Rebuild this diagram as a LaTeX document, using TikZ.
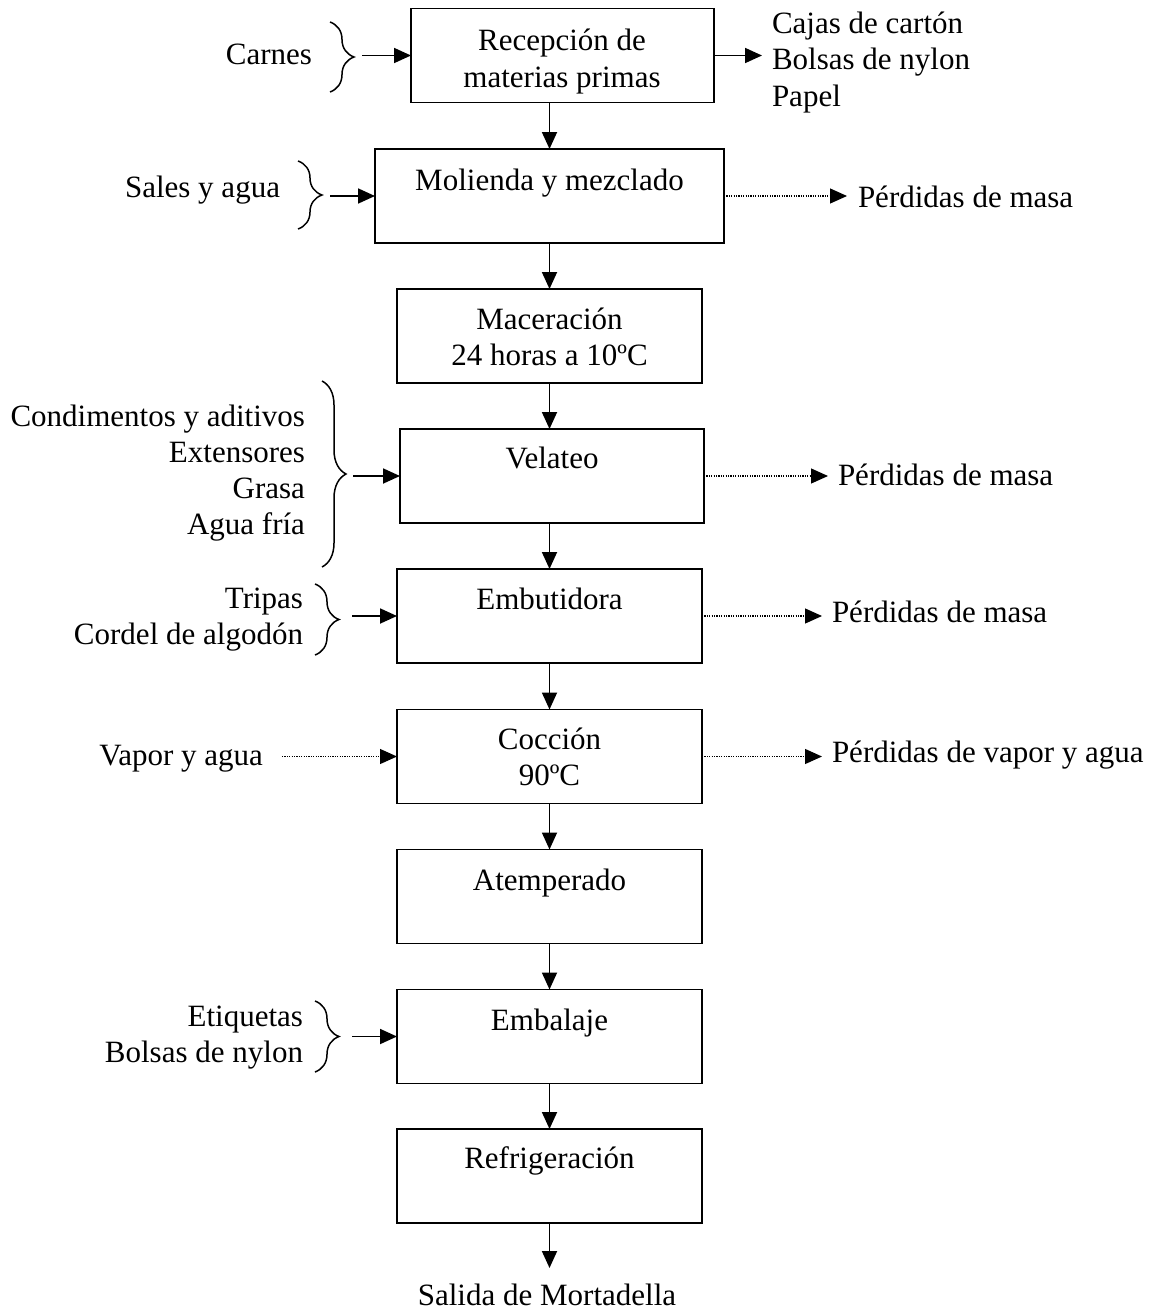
\documentclass[tikz,border=0pt]{standalone}
\usepackage{fontspec}
\setmainfont{Liberation Serif}
\usetikzlibrary{arrows.meta,decorations.pathreplacing}
\begin{document}
\begin{tikzpicture}[x=1pt,y=-1pt,
  every node/.style={font=\fontsize{31}{36}\selectfont, inner sep=0pt, outer sep=0pt},
  box/.style={draw, line width=1.8pt, minimum height=94pt, minimum width=305pt},
  flow/.style={line width=1.8pt, -{Triangle[length=17pt,width=15pt]}},
  loss/.style={line width=1.2pt, dash pattern=on 1.1pt off 1.3pt, -{Triangle[length=17pt,width=15pt]}},
  brc/.style={decorate, decoration={brace, amplitude=24pt, aspect=0.5}, line width=1.5pt},
  lab/.style={anchor=base east},
  rlab/.style={anchor=base west},
  ttl/.style={anchor=base}
]
\useasboundingbox (0,0) rectangle (1153,1314);

% boxes
\node[box, minimum width=303pt] (b1) at (562.5,55.5) {};
\node[box, minimum width=349pt] (b2) at (549.5,196) {};
\node[box] (b3) at (549.5,336) {};
\node[box, minimum width=304pt] (b4) at (552,476) {};
\node[box] (b5) at (549.5,616) {};
\node[box] (b6) at (549.5,756.5) {};
\node[box] (b7) at (549.5,896.5) {};
\node[box] (b8) at (549.5,1036.5) {};
\node[box] (b9) at (549.5,1176) {};

% box texts
\node[ttl] (t1a) at (562,51) {Recepción de};
\node[ttl] (t1b) at (562,87) {materias primas};
\node[ttl] (t2) at (549.5,190) {Molienda y mezclado};
\node[ttl] (t3a) at (549.5,329) {Maceración};
\node[ttl] (t3b) at (549.5,365) {24 horas a 10ºC};
\node[ttl] (t4) at (552,468) {Velateo};
\node[ttl] (t5) at (549.5,609) {Embutidora};
\node[ttl] (t6a) at (549.5,749) {Cocción};
\node[ttl] (t6b) at (549.5,785) {90ºC};
\node[ttl] (t7) at (549.5,890) {Atemperado};
\node[ttl] (t8) at (549.5,1030) {Embalaje};
\node[ttl] (t9) at (549.5,1168) {Refrigeración};
\node[ttl] (out) at (547,1305) {Salida de Mortadella};

% vertical flow
\draw[flow] (b1.south -| b2) -- (b2.north);
\draw[flow] (b2.south) -- (b3.north);
\draw[flow] (b3.south) -- (b4.north -| b3);
\draw[flow] (b4.south -| b3) -- (b5.north);
\draw[flow] (b5.south) -- (b6.north);
\draw[flow] (b6.south) -- (b7.north);
\draw[flow] (b7.south) -- (b8.north);
\draw[flow] (b8.south) -- (b9.north);
\coordinate (outtip) at (549.5,1268);
\draw[flow] (b9.south) -- (outtip);

% left inputs
\node[lab] (carnes) at (312,64) {Carnes};
\draw[brc] (330,22) -- (330,92);
\coordinate (i1) at (362,55.5);
\draw[flow] (i1) -- (b1.west);

\node[lab] (sales) at (280,197) {Sales y agua};
\draw[brc] (298,161) -- (298,229);
\coordinate (i2) at (330,196);
\draw[flow] (i2) -- (b2.west);

\node[lab] (c1) at (305,426) {Condimentos y aditivos};
\node[lab] (c2) at (305,462) {Extensores};
\node[lab] (c3) at (305,498) {Grasa};
\node[lab] (c4) at (305,534) {Agua fría};
\draw[brc] (322,381) -- (322,567);
\coordinate (i4) at (353,476);
\draw[flow] (i4) -- (b4.west);

\node[lab] (tr1) at (303,608) {Tripas};
\node[lab] (tr2) at (303,644) {Cordel de algodón};
\draw[brc] (315,584) -- (315,655);
\coordinate (i5) at (352,616);
\draw[flow] (i5) -- (b5.west);

\node[lab] (vapor) at (263,765) {Vapor y agua};
\draw[loss] (vapor.east |- b6.west) ++(19,0) -- (b6.west);

\node[lab] (e1) at (303,1026) {Etiquetas};
\node[lab] (e2) at (303,1062) {Bolsas de nylon};
\draw[brc] (315,1001) -- (315,1072);
\coordinate (i8) at (352,1036.5);
\draw[flow] (i8) -- (b8.west);

% right outputs
\node[rlab] (o1a) at (772,34) {Cajas de cartón};
\node[rlab] (o1b) at (772,70) {Bolsas de nylon};
\node[rlab] (o1c) at (772,106) {Papel};
\draw[flow, shorten >=10pt] (b1.east) -- (b1.east -| o1b.west);

\node[rlab] (p2) at (858,207) {Pérdidas de masa};
\draw[loss, shorten >=11pt] (b2.east) -- (b2.east -| p2.west);

\node[rlab] (p4) at (838,485) {Pérdidas de masa};
\draw[loss, shorten >=10pt] (b4.east) -- (b4.east -| p4.west);

\node[rlab] (p5) at (832,622) {Pérdidas de masa};
\draw[loss, shorten >=10pt] (b5.east) -- (b5.east -| p5.west);

\node[rlab] (p6) at (832,762) {Pérdidas de vapor y agua};
\draw[loss, shorten >=10pt] (b6.east) -- (b6.east -| p6.west);
\end{tikzpicture}
\end{document}
